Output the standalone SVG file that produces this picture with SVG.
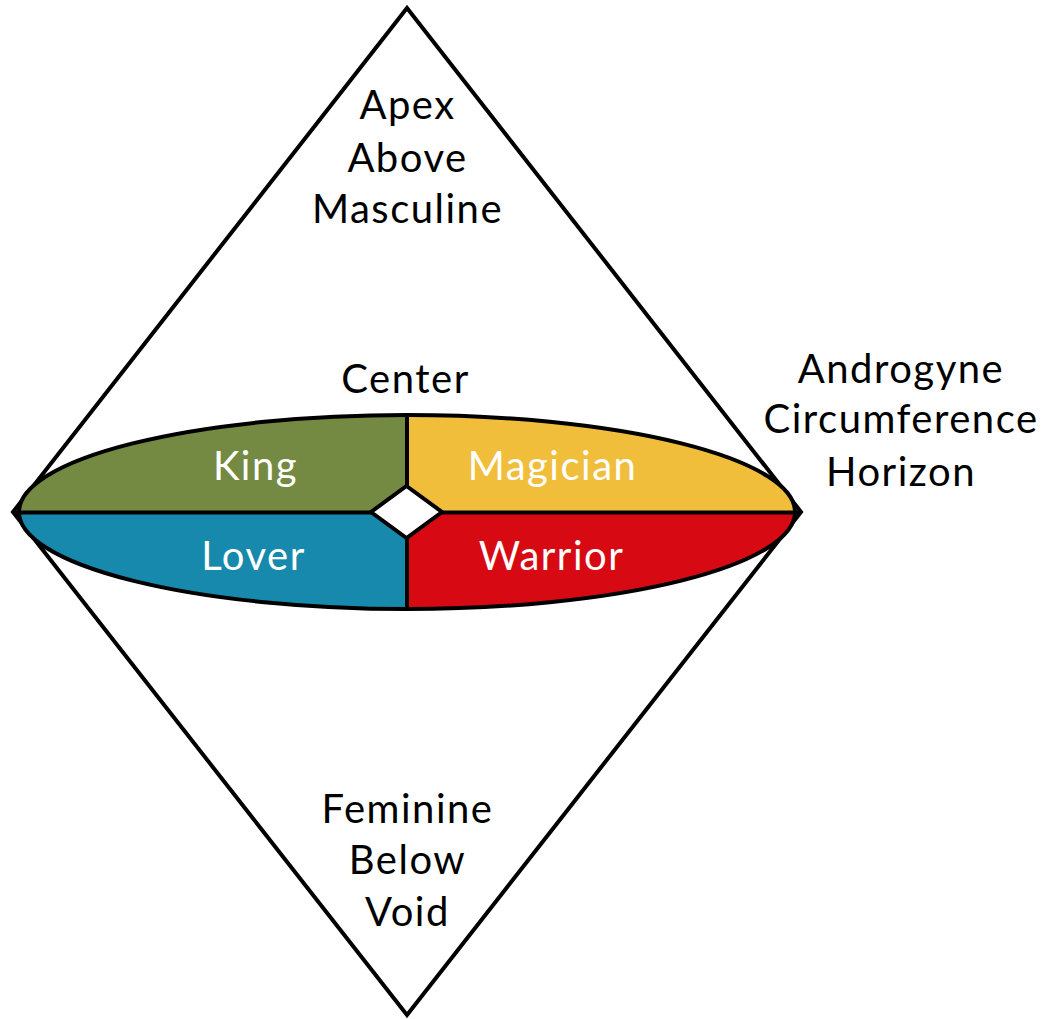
<svg xmlns="http://www.w3.org/2000/svg" width="1057" height="1019" viewBox="0 0 1057 1019">
<style>
  .lbl { font-family: Lato, "Open Sans", sans-serif; font-size: 40px; letter-spacing: 1.5px; fill: #000; text-anchor: middle; }
  .q { font-family: Lato, "Open Sans", sans-serif; font-size: 40px; letter-spacing: 1.5px; fill: #fff; text-anchor: middle; }
  .ln { stroke: #000; stroke-width: 4; fill: none; stroke-linejoin: miter; }
</style>
<defs>
  <clipPath id="ell"><ellipse cx="407" cy="512" rx="388" ry="97"/></clipPath>
</defs>
<rect width="1057" height="1019" fill="#fff"/>
<g id="diamond">
  <polygon class="ln" points="407,8 13,512 407,1015 801,512"/>
</g>
<g id="ellipse" clip-path="url(#ell)">
  <rect id="king" x="0" y="400" width="407" height="112" fill="#748942"/>
  <rect id="magician" x="407" y="400" width="420" height="112" fill="#f0be3b"/>
  <rect id="lover" x="0" y="512" width="407" height="110" fill="#1789ac"/>
  <rect id="warrior" x="407" y="512" width="420" height="110" fill="#d70a13"/>
</g>
<g id="connectors">
  <line class="ln" x1="407" y1="415" x2="407" y2="609"/>
  <line class="ln" x1="13" y1="512.5" x2="801" y2="512.5"/>
  <ellipse class="ln" cx="407" cy="512" rx="388" ry="97"/>
</g>
<g id="center-node">
  <polygon points="406.5,486 442,512 406.5,538 371,512" fill="#fff" stroke="#000" stroke-width="4" stroke-linejoin="miter"/>
</g>
<g id="quadrant-labels">
  <text class="q" x="255.5" y="480">King</text>
  <text class="q" x="552.5" y="480">Magician</text>
  <text class="q" x="253.5" y="570">Lover</text>
  <text class="q" x="551.5" y="570">Warrior</text>
</g>
<g id="top-label">
  <text class="lbl" x="407.5" y="119">Apex</text>
  <text class="lbl" x="407.5" y="172">Above</text>
  <text class="lbl" x="407.5" y="223">Masculine</text>
</g>
<g id="center-label">
  <text class="lbl" x="405.5" y="393">Center</text>
</g>
<g id="right-label">
  <text class="lbl" x="901" y="383">Androgyne</text>
  <text class="lbl" x="901" y="433">Circumference</text>
  <text class="lbl" x="901" y="486">Horizon</text>
</g>
<g id="bottom-label">
  <text class="lbl" x="407.5" y="823">Feminine</text>
  <text class="lbl" x="407.5" y="874">Below</text>
  <text class="lbl" x="407.5" y="926">Void</text>
</g>
</svg>
